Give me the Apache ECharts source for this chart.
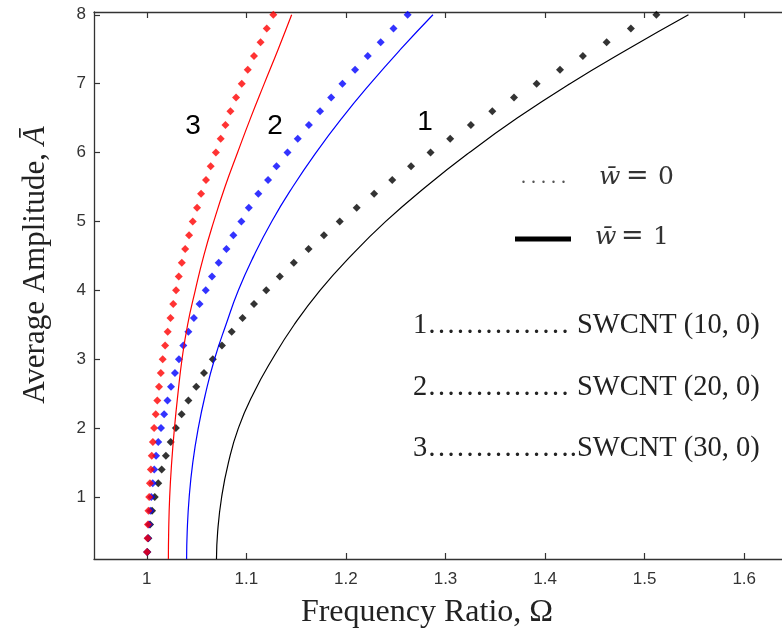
<!DOCTYPE html>
<html>
<head>
<meta charset="utf-8">
<script src="https://cdn.jsdelivr.net/npm/echarts@6/dist/echarts.min.js"></script>
<style>
  html, body { margin: 0; padding: 0; background: #ffffff; }
  #chart { width: 782px; height: 634px; }
</style>
</head>
<body>
<div id="chart"></div>
<script>
// Amplitude levels of the marker series (w = 0)
const ampDots = [0.2, 0.4, 0.6, 0.8, 1.0, 1.2, 1.4, 1.6, 1.8, 2.0,
                 2.2, 2.4, 2.6, 2.8, 3.0, 3.2, 3.4, 3.6, 3.8, 4.0,
                 4.2, 4.4, 4.6, 4.8, 5.0, 5.2, 5.4, 5.6, 5.8, 6.0,
                 6.2, 6.4, 6.6, 6.8, 7.0, 7.2, 7.4, 7.6, 7.8, 8.0];

// Frequency ratio, w = 0, SWCNT (10, 0)
const omegaDots1 = [1.0006, 1.0016, 1.0033, 1.0053, 1.0080, 1.0115, 1.0150, 1.0192, 1.0240, 1.0292,
                    1.0350, 1.0418, 1.0497, 1.0575, 1.0663, 1.0755, 1.0853, 1.0962, 1.1077, 1.1200,
                    1.1336, 1.1477, 1.1625, 1.1779, 1.1938, 1.2108, 1.2283, 1.2465, 1.2654, 1.2850,
                    1.3047, 1.3255, 1.3470, 1.3688, 1.3915, 1.4150, 1.4380, 1.4618, 1.4862, 1.5118];
// Frequency ratio, w = 0, SWCNT (20, 0)
const omegaDots2 = [1.0004, 1.0012, 1.0022, 1.0035, 1.0045, 1.0060, 1.0075, 1.0093, 1.0115, 1.0143,
                    1.0174, 1.0208, 1.0243, 1.0283, 1.0323, 1.0367, 1.0418, 1.0473, 1.0530, 1.0592,
                    1.0655, 1.0722, 1.0800, 1.0870, 1.0950, 1.1025, 1.1120, 1.1218, 1.1303, 1.1413,
                    1.1516, 1.1628, 1.1740, 1.1852, 1.1965, 1.2092, 1.2219, 1.2349, 1.2478, 1.2620];
// Frequency ratio, w = 0, SWCNT (30, 0)
const omegaDots3 = [1.0003, 1.0008, 1.0012, 1.0017, 1.0024, 1.0032, 1.0041, 1.0050, 1.0061, 1.0074,
                    1.0090, 1.0106, 1.0123, 1.0141, 1.0160, 1.0184, 1.0210, 1.0238, 1.0266, 1.0294,
                    1.0321, 1.0352, 1.0386, 1.0425, 1.0462, 1.0505, 1.0545, 1.0595, 1.0642, 1.0694,
                    1.0742, 1.0790, 1.0840, 1.0897, 1.0954, 1.1014, 1.1077, 1.1143, 1.1205, 1.1271];

// Amplitude levels of the solid curves (w = 1)
const ampSolid = [0.1, 0.5, 1.0, 1.5, 2.0, 2.5, 3.0, 3.5, 4.0, 4.5, 5.0, 5.5, 6.0, 6.5, 7.0, 7.5, 8.0];
const omegaSolid1 = [1.0700, 1.0712, 1.0752, 1.0820, 1.0920, 1.1070, 1.1260, 1.1480, 1.1740,
                     1.2050, 1.2400, 1.2800, 1.3240, 1.3720, 1.4250, 1.4830, 1.5440];
const omegaSolid2 = [1.0400, 1.0406, 1.0426, 1.0462, 1.0517, 1.0590, 1.0680, 1.0795, 1.0920,
                     1.1075, 1.1255, 1.1465, 1.1700, 1.1960, 1.2245, 1.2550, 1.2874];
const omegaSolid3 = [1.0217, 1.0220, 1.0230, 1.0250, 1.0278, 1.0313, 1.0354, 1.0410, 1.0487,
                     1.0572, 1.0673, 1.0785, 1.0912, 1.1042, 1.1180, 1.1320, 1.1455];

// Tick positions and labels
const xTicks = [1, 1.1, 1.2, 1.3, 1.4, 1.5, 1.6];
const xTickLabels = ['1', '1.1', '1.2', '1.3', '1.4', '1.5', '1.6'];
const yTicks = [1, 2, 3, 4, 5, 6, 7, 8];

const curveColors = ['#000000', '#0000ff', '#ff0000'];

function pairs(omegas, amps) {
  return omegas.map((w, i) => [w, amps[i]]);
}

const chart = echarts.init(document.getElementById('chart'), null, { renderer: 'canvas' });

const axisColor = '#333333';
const tickFont = { fontFamily: 'Liberation Sans', fontSize: 17, color: '#333333' };
const serif = 'Liberation Serif';

function solidSeries(omegas, color) {
  return {
    type: 'line',
    data: pairs(omegas, ampSolid),
    showSymbol: false,
    smooth: 0.5,
    lineStyle: { color: color, width: 1.2 },
    silent: true,
    z: 3
  };
}
function dotSeries(omegas, color) {
  return {
    type: 'scatter',
    data: pairs(omegas, ampDots),
    symbol: 'diamond',
    symbolSize: 8,
    itemStyle: { color: color },
    silent: true,
    z: 2
  };
}

const option = {
  animation: false,
  backgroundColor: '#ffffff',
  grid: { left: 94, top: 12, right: -12, bottom: 75, outerBoundsMode: 'none', containLabel: false },
  xAxis: [{
    type: 'value',
    min: 0.947,
    max: 1.65,
    position: 'bottom',
    axisLine: { show: true, onZero: false, lineStyle: { color: axisColor, width: 1.3 } },
    axisTick: { show: true, inside: true, length: 6, customValues: xTicks, lineStyle: { color: axisColor, width: 1.2 } },
    axisLabel: Object.assign({ show: true, margin: 12, customValues: xTicks,
      formatter: v => xTickLabels[xTicks.findIndex(t => Math.abs(t - v) < 1e-6)] }, tickFont),
    splitLine: { show: false }
  }, {
    type: 'value',
    min: 0.947,
    max: 1.65,
    position: 'top',
    axisLine: { show: true, onZero: false, lineStyle: { color: axisColor, width: 1.3 } },
    axisTick: { show: true, inside: true, length: 6, customValues: xTicks, lineStyle: { color: axisColor, width: 1.2 } },
    axisLabel: { show: false },
    splitLine: { show: false }
  }],
  yAxis: {
    type: 'value',
    min: 0.1,
    max: 8.04,
    axisLine: { show: true, onZero: false, lineStyle: { color: axisColor, width: 1.3 } },
    axisTick: { show: true, inside: true, length: 6, customValues: yTicks, lineStyle: { color: axisColor, width: 1.2 } },
    axisLabel: Object.assign({ show: true, margin: 8, customValues: yTicks }, tickFont),
    splitLine: { show: false }
  },
  series: [
    dotSeries(omegaDots1, curveColors[0]),
    dotSeries(omegaDots2, curveColors[1]),
    dotSeries(omegaDots3, curveColors[2]),
    solidSeries(omegaSolid1, curveColors[0]),
    solidSeries(omegaSolid2, curveColors[1]),
    solidSeries(omegaSolid3, curveColors[2])
  ],
  graphic: [
    // axis titles
    { type: 'text', x: 427, y: 613, style: { text: 'Frequency Ratio, Ω', fontFamily: serif, fontSize: 32,
        fill: '#222', align: 'center', verticalAlign: 'middle' } },
    { type: 'text', x: 36, y: 265, rotation: Math.PI / 2,
      style: { text: '{a|Average Amplitude, }{b|Ā}', align: 'center', verticalAlign: 'middle',
        rich: { a: { fontFamily: serif, fontSize: 31, fill: '#222' },
                b: { fontFamily: serif, fontSize: 31, fontStyle: 'italic', fill: '#222' } } } },
    // curve numbers
    { type: 'text', x: 193, y: 126, style: { text: '3', fontFamily: 'Liberation Sans', fontSize: 28, fill: '#000', align: 'center', verticalAlign: 'middle' } },
    { type: 'text', x: 275, y: 126, style: { text: '2', fontFamily: 'Liberation Sans', fontSize: 28, fill: '#000', align: 'center', verticalAlign: 'middle' } },
    { type: 'text', x: 425, y: 122, style: { text: '1', fontFamily: 'Liberation Sans', fontSize: 28, fill: '#000', align: 'center', verticalAlign: 'middle' } },
    // line-style key
    { type: 'text', x: 521, y: 178, style: { text: '. . . . .', fontFamily: serif, fontSize: 20, fill: '#555', align: 'left', verticalAlign: 'middle' } },
    { type: 'text', x: 599, y: 177, style: { text: 'w\u0304', fontFamily: 'DejaVu Serif', fontStyle: 'italic', fontSize: 25, fill: '#333', align: 'left', verticalAlign: 'middle' } },
    { type: 'text', x: 626, y: 177, style: { text: '=', fontFamily: 'DejaVu Serif', fontSize: 27, fill: '#333', align: 'left', verticalAlign: 'middle' } },
    { type: 'text', x: 658, y: 177, style: { text: '0', fontFamily: 'DejaVu Serif', fontSize: 25, fill: '#333', align: 'left', verticalAlign: 'middle' } },
    { type: 'line', shape: { x1: 515, y1: 239, x2: 571, y2: 239 }, style: { stroke: '#000', lineWidth: 5 } },
    { type: 'text', x: 595, y: 237, style: { text: 'w\u0304', fontFamily: 'DejaVu Serif', fontStyle: 'italic', fontSize: 25, fill: '#333', align: 'left', verticalAlign: 'middle' } },
    { type: 'text', x: 621, y: 237, style: { text: '=', fontFamily: 'DejaVu Serif', fontSize: 27, fill: '#333', align: 'left', verticalAlign: 'middle' } },
    { type: 'text', x: 653, y: 237, style: { text: '1', fontFamily: 'DejaVu Serif', fontSize: 25, fill: '#333', align: 'left', verticalAlign: 'middle' } },
    // tube key
    { type: 'text', x: 413, y: 326, style: { text: '1…………… SWCNT (10, 0)', fontFamily: serif, fontSize: 28.5, fill: '#222', align: 'left', verticalAlign: 'middle' } },
    { type: 'text', x: 413, y: 388, style: { text: '2…………… SWCNT (20, 0)', fontFamily: serif, fontSize: 28.5, fill: '#222', align: 'left', verticalAlign: 'middle' } },
    { type: 'text', x: 413, y: 449, style: { text: '3…………….SWCNT (30, 0)', fontFamily: serif, fontSize: 28.5, fill: '#222', align: 'left', verticalAlign: 'middle' } }
  ]
};

chart.setOption(option);
</script>
</body>
</html>
